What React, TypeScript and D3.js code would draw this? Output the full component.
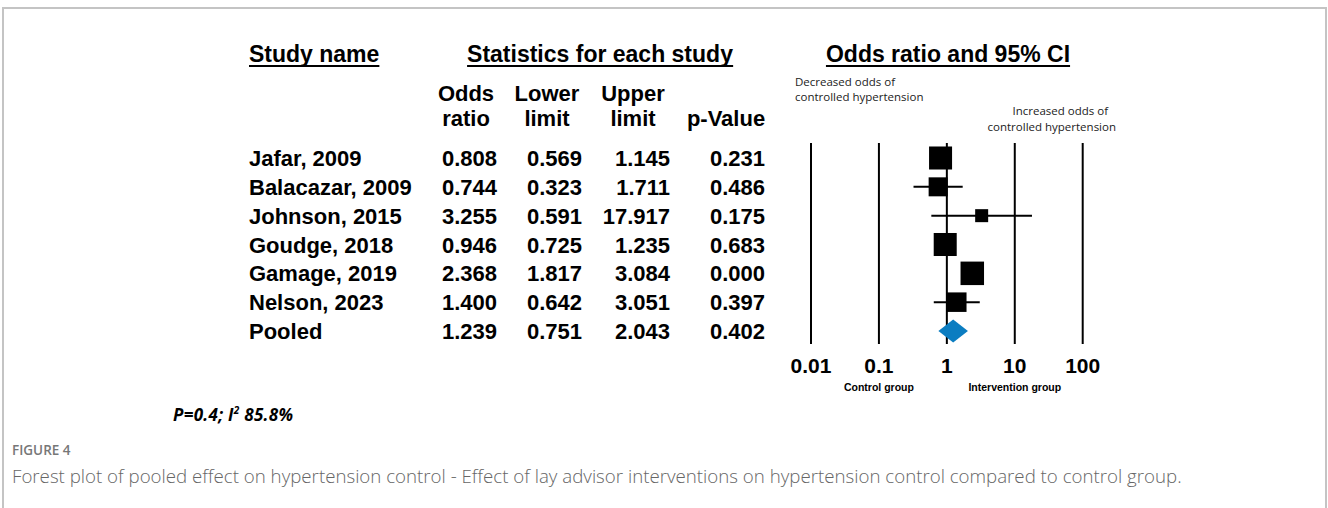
import React, { useEffect, useRef } from 'react';
import * as d3 from 'd3';

// study rows, last one is the pooled estimate
const studies = ["Jafar, 2009", "Balacazar, 2009", "Johnson, 2015", "Goudge, 2018", "Gamage, 2019", "Nelson, 2023", "Pooled"];
const oddsRatio = [0.808, 0.744, 3.255, 0.946, 2.368, 1.400, 1.239];
const lowerLimit = [0.569, 0.323, 0.591, 0.725, 1.817, 0.642, 0.751];
const upperLimit = [1.145, 1.711, 17.917, 1.235, 3.084, 3.051, 2.043];
const pValue = [0.231, 0.486, 0.175, 0.683, 0.000, 0.397, 0.402];
// relative weight (%)
const relWeight = [21.0, 14.3, 6.7, 21.0, 21.9, 15.1];

const tickValues = [0.01, 0.1, 1, 10, 100];
const tickLabels = ["0.01", "0.1", "1", "10", "100"];

const W = 1328;
const H = 508;
const ARIAL = "'Liberation Sans', Arial, sans-serif";
const SOFT = "'Open Sans', 'Noto Sans', sans-serif";

export default function App() {
  const ref = useRef<SVGSVGElement>(null);

  useEffect(() => {
    const svg = d3.select(ref.current);
    svg.selectAll('*').remove();

    // page frame
    svg.append('rect')
      .attr('x', 3).attr('y', 8)
      .attr('width', 1323).attr('height', 520)
      .attr('fill', 'none')
      .attr('stroke', '#c4c4c4')
      .attr('stroke-width', 2);

    const x = d3.scaleLog().domain([0.01, 100]).range([811, 1082.7]);
    const y = d3.scalePoint<string>().domain(studies).range([158, 331]);
    const size = d3.scaleSqrt().domain([0, 21.9]).range([0, 23.5]);
    const fmt = d3.format('.3f');

    // section headings, underlined
    const headings = [
      { text: 'Study name', x: 249, anchor: 'start' },
      { text: 'Statistics for each study', x: 600, anchor: 'middle' },
      { text: 'Odds ratio and 95% CI', x: 948, anchor: 'middle' },
    ];
    headings.forEach(h => {
      const t = svg.append('text')
        .attr('x', h.x).attr('y', 62)
        .attr('text-anchor', h.anchor)
        .attr('font-family', ARIAL)
        .attr('font-weight', 'bold')
        .attr('font-size', 23)
        .text(h.text);
      const bb = (t.node() as SVGTextElement).getBBox();
      svg.append('line')
        .attr('x1', bb.x).attr('x2', bb.x + bb.width)
        .attr('y1', 66).attr('y2', 66)
        .attr('stroke', '#000').attr('stroke-width', 2);
    });

    // column headers
    const cols = [
      { top: 'Odds', bottom: 'ratio', cx: 466, right: 497, values: oddsRatio },
      { top: 'Lower', bottom: 'limit', cx: 547, right: 582, values: lowerLimit },
      { top: 'Upper', bottom: 'limit', cx: 633, right: 670, values: upperLimit },
      { top: '', bottom: 'p-Value', cx: 726, right: 765, values: pValue },
    ];
    cols.forEach(c => {
      const g = svg.append('g')
        .attr('font-family', ARIAL)
        .attr('font-weight', 'bold')
        .attr('font-size', 22)
        .attr('text-anchor', 'middle');
      g.append('text').attr('x', c.cx).attr('y', 101).text(c.top);
      g.append('text').attr('x', c.cx).attr('y', 126).text(c.bottom);

      svg.append('g')
        .attr('font-family', ARIAL)
        .attr('font-weight', 'bold')
        .attr('font-size', 22)
        .attr('text-anchor', 'end')
        .selectAll('text')
        .data(c.values)
        .join('text')
        .attr('x', c.right)
        .attr('y', (d, i) => (y(studies[i]) as number) + 8)
        .text(d => fmt(d));
    });

    svg.append('g')
      .attr('font-family', ARIAL)
      .attr('font-weight', 'bold')
      .attr('font-size', 22)
      .selectAll('text')
      .data(studies)
      .join('text')
      .attr('x', 249)
      .attr('y', d => (y(d) as number) + 8)
      .text(d => d);

    // vertical reference lines
    svg.append('g')
      .selectAll('line')
      .data(tickValues)
      .join('line')
      .attr('x1', d => x(d)).attr('x2', d => x(d))
      .attr('y1', 143).attr('y2', 344)
      .attr('stroke', '#000')
      .attr('stroke-width', 2);

    svg.append('g')
      .attr('font-family', ARIAL)
      .attr('font-weight', 'bold')
      .attr('font-size', 21)
      .attr('text-anchor', 'middle')
      .selectAll('text')
      .data(tickValues)
      .join('text')
      .attr('x', d => x(d))
      .attr('y', 373)
      .text((d, i) => tickLabels[i]);

    const groups = svg.append('g')
      .attr('font-family', ARIAL)
      .attr('font-weight', 'bold')
      .attr('font-size', 10.5)
      .attr('text-anchor', 'middle');
    groups.append('text').attr('x', x(0.1)).attr('y', 391).text('Control group');
    groups.append('text').attr('x', x(10)).attr('y', 391).text('Intervention group');

    // direction notes
    const notes = svg.append('g')
      .attr('font-family', SOFT)
      .attr('font-size', 11.5)
      .attr('fill', '#222');
    notes.append('text').attr('x', 795).attr('y', 86).text('Decreased odds of');
    notes.append('text').attr('x', 795).attr('y', 101).text('controlled hypertension');
    notes.append('text').attr('x', 1108).attr('y', 115).attr('text-anchor', 'end').text('Increased odds of');
    notes.append('text').attr('x', 1116).attr('y', 131).attr('text-anchor', 'end').text('controlled hypertension');

    // CI whiskers and squares for the single studies
    const rows = studies.slice(0, -1);
    const marks = svg.append('g');
    marks.selectAll('line')
      .data(rows)
      .join('line')
      .attr('x1', (d, i) => x(lowerLimit[i]))
      .attr('x2', (d, i) => x(upperLimit[i]))
      .attr('y1', d => y(d) as number)
      .attr('y2', d => y(d) as number)
      .attr('stroke', '#000')
      .attr('stroke-width', 2);
    marks.selectAll('rect')
      .data(rows)
      .join('rect')
      .attr('x', (d, i) => x(oddsRatio[i]) - size(relWeight[i]) / 2)
      .attr('y', (d, i) => (y(d) as number) - size(relWeight[i]) / 2)
      .attr('width', (d, i) => size(relWeight[i]))
      .attr('height', (d, i) => size(relWeight[i]))
      .attr('fill', '#000');

    // pooled diamond
    const k = studies.length - 1;
    const py = y(studies[k]) as number;
    svg.append('path')
      .attr('d', d3.line()([
        [x(lowerLimit[k]), py],
        [x(oddsRatio[k]), py - 11.5],
        [x(upperLimit[k]), py],
        [x(oddsRatio[k]), py + 11.5],
      ]) + 'Z')
      .attr('fill', '#0b7dc1');

    // heterogeneity note
    const het = svg.append('text')
      .attr('x', 173).attr('y', 421)
      .attr('font-family', SOFT)
      .attr('font-size', 17)
      .attr('font-weight', 'bold')
      .attr('font-style', 'italic')
      .attr('letter-spacing', 0.3);
    het.append('tspan').text('P=0.4; I');
    het.append('tspan').attr('dy', -7).attr('font-size', 10).text('2');
    het.append('tspan').attr('dy', 7).text(' 85.8%');

    // caption
    svg.append('text')
      .attr('x', 12).attr('y', 455)
      .attr('font-family', SOFT)
      .attr('font-size', 13.5)
      .attr('font-weight', 600)
      .attr('fill', '#777')
      .text('FIGURE 4');
    svg.append('text')
      .attr('x', 12).attr('y', 483)
      .attr('font-family', SOFT)
      .attr('font-size', 18.7)
      .attr('font-weight', 300)
      .attr('fill', '#666')
      .text('Forest plot of pooled effect on hypertension control - Effect of lay advisor interventions on hypertension control compared to control group.');
  }, []);

  return (
    <div style={{ position: 'absolute', left: 0, top: 0 }}>
      <svg ref={ref} width={W} height={H} style={{ display: 'block', background: '#fff' }} />
    </div>
  );
}
